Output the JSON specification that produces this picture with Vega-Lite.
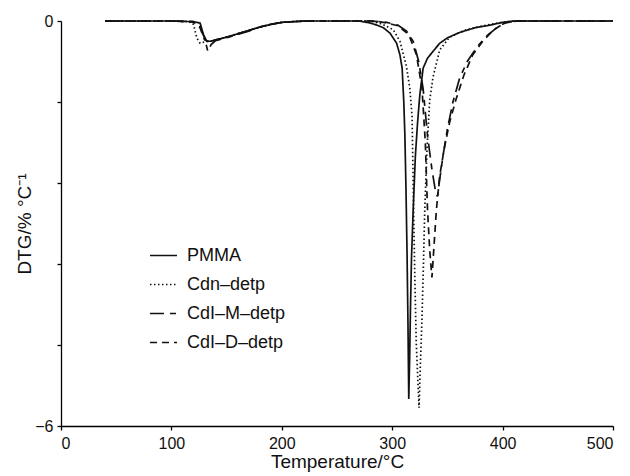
{
  "$schema": "https://vega.github.io/schema/vega-lite/v6.json",
  "width": 552,
  "height": 405,
  "autosize": {"type": "none"},
  "padding": {"left": 61, "top": 21, "right": 17, "bottom": 50},
  "background": "white",
  "config": {
    "view": {"stroke": null},
    "font": "Liberation Sans",
    "axis": {"grid": false, "domainColor": "#000", "tickColor": "#000", "labelColor": "#111", "titleColor": "#111", "labelFont": "Liberation Sans", "titleFont": "Liberation Sans", "labelFontSize": 16, "titleFontSize": 19, "titleFontWeight": "normal", "domainWidth": 1.3, "tickWidth": 1.3}
  },
  "data": {
    "values": [
      {"T": 40, "DTG": 0, "s": "PMMA"}, {"T": 100, "DTG": 0, "s": "PMMA"}, {"T": 120, "DTG": -0.01, "s": "PMMA"}, {"T": 126, "DTG": -0.03, "s": "PMMA"}, {"T": 129, "DTG": -0.2, "s": "PMMA"}, {"T": 132, "DTG": -0.3, "s": "PMMA"}, {"T": 136, "DTG": -0.3, "s": "PMMA"}, {"T": 140, "DTG": -0.28, "s": "PMMA"}, {"T": 150, "DTG": -0.24, "s": "PMMA"}, {"T": 160, "DTG": -0.19, "s": "PMMA"}, {"T": 170, "DTG": -0.14, "s": "PMMA"}, {"T": 180, "DTG": -0.09, "s": "PMMA"}, {"T": 190, "DTG": -0.05, "s": "PMMA"}, {"T": 200, "DTG": -0.02, "s": "PMMA"}, {"T": 215, "DTG": -0.005, "s": "PMMA"}, {"T": 230, "DTG": 0, "s": "PMMA"}, {"T": 270, "DTG": 0, "s": "PMMA"}, {"T": 280, "DTG": -0.03, "s": "PMMA"}, {"T": 286, "DTG": -0.06, "s": "PMMA"}, {"T": 292, "DTG": -0.1, "s": "PMMA"}, {"T": 298, "DTG": -0.18, "s": "PMMA"}, {"T": 304, "DTG": -0.33, "s": "PMMA"}, {"T": 307, "DTG": -0.5, "s": "PMMA"}, {"T": 309, "DTG": -0.7, "s": "PMMA"}, {"T": 310.5, "DTG": -1.2, "s": "PMMA"}, {"T": 311.5, "DTG": -1.7, "s": "PMMA"}, {"T": 312.5, "DTG": -2.5, "s": "PMMA"}, {"T": 313.5, "DTG": -3.5, "s": "PMMA"}, {"T": 314.3, "DTG": -4.5, "s": "PMMA"}, {"T": 315, "DTG": -5.6, "s": "PMMA"}, {"T": 315.8, "DTG": -5.0, "s": "PMMA"}, {"T": 316.5, "DTG": -4.3, "s": "PMMA"}, {"T": 317.5, "DTG": -3.5, "s": "PMMA"}, {"T": 319, "DTG": -2.8, "s": "PMMA"}, {"T": 321, "DTG": -2.0, "s": "PMMA"}, {"T": 323, "DTG": -1.5, "s": "PMMA"}, {"T": 325, "DTG": -1.1, "s": "PMMA"}, {"T": 328, "DTG": -0.7, "s": "PMMA"}, {"T": 332, "DTG": -0.55, "s": "PMMA"}, {"T": 337, "DTG": -0.45, "s": "PMMA"}, {"T": 343, "DTG": -0.33, "s": "PMMA"}, {"T": 350, "DTG": -0.25, "s": "PMMA"}, {"T": 361, "DTG": -0.17, "s": "PMMA"}, {"T": 375, "DTG": -0.1, "s": "PMMA"}, {"T": 389, "DTG": -0.06, "s": "PMMA"}, {"T": 400, "DTG": -0.02, "s": "PMMA"}, {"T": 410, "DTG": 0, "s": "PMMA"}, {"T": 500, "DTG": 0, "s": "PMMA"},

      {"T": 40, "DTG": 0, "s": "Cdn–detp"}, {"T": 100, "DTG": 0, "s": "Cdn–detp"}, {"T": 116, "DTG": -0.01, "s": "Cdn–detp"}, {"T": 120, "DTG": -0.05, "s": "Cdn–detp"}, {"T": 123, "DTG": -0.25, "s": "Cdn–detp"}, {"T": 126, "DTG": -0.33, "s": "Cdn–detp"}, {"T": 130, "DTG": -0.31, "s": "Cdn–detp"}, {"T": 135, "DTG": -0.3, "s": "Cdn–detp"}, {"T": 140, "DTG": -0.28, "s": "Cdn–detp"}, {"T": 150, "DTG": -0.24, "s": "Cdn–detp"}, {"T": 160, "DTG": -0.19, "s": "Cdn–detp"}, {"T": 170, "DTG": -0.14, "s": "Cdn–detp"}, {"T": 180, "DTG": -0.09, "s": "Cdn–detp"}, {"T": 190, "DTG": -0.05, "s": "Cdn–detp"}, {"T": 200, "DTG": -0.02, "s": "Cdn–detp"}, {"T": 215, "DTG": -0.005, "s": "Cdn–detp"}, {"T": 230, "DTG": 0, "s": "Cdn–detp"}, {"T": 280, "DTG": 0, "s": "Cdn–detp"}, {"T": 290, "DTG": -0.04, "s": "Cdn–detp"}, {"T": 301, "DTG": -0.13, "s": "Cdn–detp"}, {"T": 307, "DTG": -0.3, "s": "Cdn–detp"}, {"T": 313, "DTG": -0.68, "s": "Cdn–detp"}, {"T": 316, "DTG": -1.0, "s": "Cdn–detp"}, {"T": 318, "DTG": -1.42, "s": "Cdn–detp"}, {"T": 318.8, "DTG": -2.2, "s": "Cdn–detp"}, {"T": 319.5, "DTG": -2.9, "s": "Cdn–detp"}, {"T": 320.5, "DTG": -3.8, "s": "Cdn–detp"}, {"T": 321.8, "DTG": -4.77, "s": "Cdn–detp"}, {"T": 324.3, "DTG": -5.73, "s": "Cdn–detp"}, {"T": 325.5, "DTG": -5.1, "s": "Cdn–detp"}, {"T": 327, "DTG": -4.4, "s": "Cdn–detp"}, {"T": 328.3, "DTG": -3.6, "s": "Cdn–detp"}, {"T": 329.5, "DTG": -2.8, "s": "Cdn–detp"}, {"T": 331.5, "DTG": -1.9, "s": "Cdn–detp"}, {"T": 334, "DTG": -1.17, "s": "Cdn–detp"}, {"T": 337, "DTG": -0.83, "s": "Cdn–detp"}, {"T": 343, "DTG": -0.43, "s": "Cdn–detp"}, {"T": 352, "DTG": -0.24, "s": "Cdn–detp"}, {"T": 365, "DTG": -0.14, "s": "Cdn–detp"}, {"T": 380, "DTG": -0.08, "s": "Cdn–detp"}, {"T": 395, "DTG": -0.03, "s": "Cdn–detp"}, {"T": 410, "DTG": 0, "s": "Cdn–detp"}, {"T": 500, "DTG": 0, "s": "Cdn–detp"},

      {"T": 40, "DTG": 0, "s": "CdI–M–detp"}, {"T": 100, "DTG": 0, "s": "CdI–M–detp"}, {"T": 118, "DTG": -0.01, "s": "CdI–M–detp"}, {"T": 125, "DTG": -0.05, "s": "CdI–M–detp"}, {"T": 130, "DTG": -0.25, "s": "CdI–M–detp"}, {"T": 133, "DTG": -0.45, "s": "CdI–M–detp"}, {"T": 136, "DTG": -0.35, "s": "CdI–M–detp"}, {"T": 140, "DTG": -0.29, "s": "CdI–M–detp"}, {"T": 150, "DTG": -0.25, "s": "CdI–M–detp"}, {"T": 160, "DTG": -0.2, "s": "CdI–M–detp"}, {"T": 170, "DTG": -0.15, "s": "CdI–M–detp"}, {"T": 180, "DTG": -0.09, "s": "CdI–M–detp"}, {"T": 190, "DTG": -0.05, "s": "CdI–M–detp"}, {"T": 200, "DTG": -0.02, "s": "CdI–M–detp"}, {"T": 220, "DTG": 0, "s": "CdI–M–detp"}, {"T": 280, "DTG": 0, "s": "CdI–M–detp"}, {"T": 295, "DTG": -0.02, "s": "CdI–M–detp"}, {"T": 305, "DTG": -0.06, "s": "CdI–M–detp"}, {"T": 313, "DTG": -0.15, "s": "CdI–M–detp"}, {"T": 319, "DTG": -0.3, "s": "CdI–M–detp"}, {"T": 324, "DTG": -0.6, "s": "CdI–M–detp"}, {"T": 328, "DTG": -1.0, "s": "CdI–M–detp"}, {"T": 332, "DTG": -1.7, "s": "CdI–M–detp"}, {"T": 336, "DTG": -2.2, "s": "CdI–M–detp"}, {"T": 339, "DTG": -2.5, "s": "CdI–M–detp"}, {"T": 341, "DTG": -2.6, "s": "CdI–M–detp"}, {"T": 343, "DTG": -2.35, "s": "CdI–M–detp"}, {"T": 346, "DTG": -2.0, "s": "CdI–M–detp"}, {"T": 350, "DTG": -1.6, "s": "CdI–M–detp"}, {"T": 355, "DTG": -1.2, "s": "CdI–M–detp"}, {"T": 361, "DTG": -0.85, "s": "CdI–M–detp"}, {"T": 368, "DTG": -0.6, "s": "CdI–M–detp"}, {"T": 377, "DTG": -0.38, "s": "CdI–M–detp"}, {"T": 387, "DTG": -0.2, "s": "CdI–M–detp"}, {"T": 397, "DTG": -0.07, "s": "CdI–M–detp"}, {"T": 405, "DTG": -0.01, "s": "CdI–M–detp"}, {"T": 415, "DTG": 0, "s": "CdI–M–detp"}, {"T": 500, "DTG": 0, "s": "CdI–M–detp"},

      {"T": 40, "DTG": 0, "s": "CdI–D–detp"}, {"T": 100, "DTG": 0, "s": "CdI–D–detp"}, {"T": 120, "DTG": -0.01, "s": "CdI–D–detp"}, {"T": 126, "DTG": -0.1, "s": "CdI–D–detp"}, {"T": 130, "DTG": -0.28, "s": "CdI–D–detp"}, {"T": 135, "DTG": -0.31, "s": "CdI–D–detp"}, {"T": 140, "DTG": -0.28, "s": "CdI–D–detp"}, {"T": 150, "DTG": -0.24, "s": "CdI–D–detp"}, {"T": 160, "DTG": -0.19, "s": "CdI–D–detp"}, {"T": 170, "DTG": -0.14, "s": "CdI–D–detp"}, {"T": 180, "DTG": -0.09, "s": "CdI–D–detp"}, {"T": 190, "DTG": -0.05, "s": "CdI–D–detp"}, {"T": 200, "DTG": -0.02, "s": "CdI–D–detp"}, {"T": 220, "DTG": 0, "s": "CdI–D–detp"}, {"T": 285, "DTG": 0, "s": "CdI–D–detp"}, {"T": 295, "DTG": -0.03, "s": "CdI–D–detp"}, {"T": 305, "DTG": -0.07, "s": "CdI–D–detp"}, {"T": 315, "DTG": -0.2, "s": "CdI–D–detp"}, {"T": 322, "DTG": -0.5, "s": "CdI–D–detp"}, {"T": 327, "DTG": -1.0, "s": "CdI–D–detp"}, {"T": 330, "DTG": -1.8, "s": "CdI–D–detp"}, {"T": 332, "DTG": -2.8, "s": "CdI–D–detp"}, {"T": 334, "DTG": -3.4, "s": "CdI–D–detp"}, {"T": 336, "DTG": -3.8, "s": "CdI–D–detp"}, {"T": 338, "DTG": -3.3, "s": "CdI–D–detp"}, {"T": 340, "DTG": -2.8, "s": "CdI–D–detp"}, {"T": 343, "DTG": -2.3, "s": "CdI–D–detp"}, {"T": 347, "DTG": -1.9, "s": "CdI–D–detp"}, {"T": 352, "DTG": -1.5, "s": "CdI–D–detp"}, {"T": 358, "DTG": -1.15, "s": "CdI–D–detp"}, {"T": 365, "DTG": -0.8, "s": "CdI–D–detp"}, {"T": 373, "DTG": -0.5, "s": "CdI–D–detp"}, {"T": 382, "DTG": -0.3, "s": "CdI–D–detp"}, {"T": 392, "DTG": -0.13, "s": "CdI–D–detp"}, {"T": 402, "DTG": -0.03, "s": "CdI–D–detp"}, {"T": 412, "DTG": 0, "s": "CdI–D–detp"}, {"T": 500, "DTG": 0, "s": "CdI–D–detp"}
    ]
  },
  "mark": {"type": "line", "color": "#111", "strokeWidth": 1.7, "strokeCap": "butt"},
  "encoding": {
    "x": {"field": "T", "type": "quantitative", "scale": {"domain": [0, 500], "nice": false},
      "axis": {"values": [0, 100, 200, 300, 400, 500], "title": "Temperature/°C", "tickSize": 4, "labelPadding": 5, "titlePadding": 1}},
    "y": {"field": "DTG", "type": "quantitative", "scale": {"domain": [-6, 0], "nice": false, "zero": false},
      "axis": {"values": [0, -1.2, -2.4, -3.6, -4.8, -6], "labelExpr": "datum.value == 0 ? '0' : (datum.value == -6 ? '−6' : '')", "title": "DTG/% °C⁻¹", "tickSize": 4, "labelPadding": 4, "titlePadding": 0}},
    "detail": {"field": "s"},
    "order": {"field": "T", "type": "quantitative"},
    "strokeDash": {"field": "s", "type": "nominal",
      "scale": {"domain": ["PMMA", "Cdn–detp", "CdI–M–detp", "CdI–D–detp"], "range": [[1, 0], [1.5, 2.5], [14, 6, 6, 6], [7, 5]]},
      "legend": {"title": null, "orient": "none", "legendX": 88, "legendY": 220, "symbolType": "stroke", "symbolSize": 730, "symbolStrokeWidth": 1.7, "symbolStrokeColor": "#111", "labelFontSize": 18, "labelFont": "Liberation Sans", "labelColor": "#111", "rowPadding": 5, "labelOffset": 9}}
  }
}
